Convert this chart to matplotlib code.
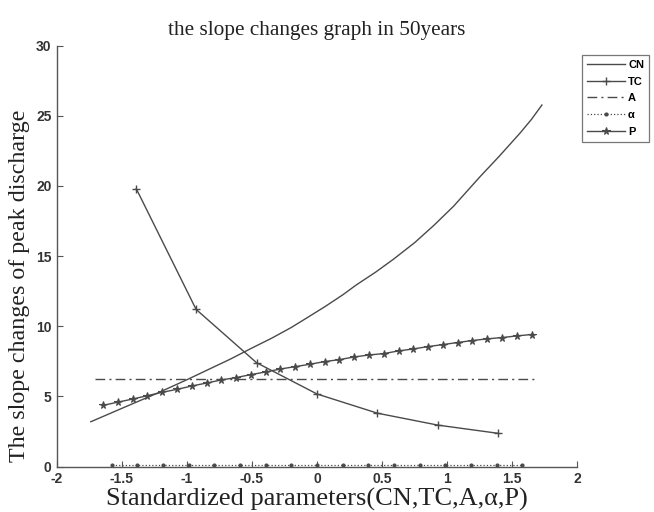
import numpy as np
import matplotlib
matplotlib.use("Agg")
import matplotlib.pyplot as plt

# ---- data ----
cn_x = [-1.74, -1.5, -1.23, -1.0, -0.8, -0.67, -0.5, -0.35, -0.2, -0.105, 0.06, 0.2, 0.3,
        0.45, 0.587, 0.75, 0.9, 1.05, 1.254, 1.4, 1.56, 1.65, 1.73]
cn_y = [3.19, 4.15, 5.22, 6.19, 7.07, 7.64, 8.45, 9.14, 9.9, 10.44, 11.39, 12.25, 12.93,
        13.85, 14.77, 15.95, 17.2, 18.55, 20.66, 22.1, 23.75, 24.75, 25.77]

tc_x = [-1.39, -0.93, -0.465, 0.0, 0.465, 0.93, 1.39]
tc_y = [19.8, 11.2, 7.4, 5.17, 3.8, 2.95, 2.37]

a_x = [-1.71, 1.70]
a_y = [6.24, 6.24]

alpha_x = [-1.58, -1.3825, -1.185, -0.9875, -0.79, -0.5925, -0.395, -0.1975, 0.0,
           0.1975, 0.395, 0.5925, 0.79, 0.9875, 1.185, 1.3825, 1.58]
alpha_y = [0.12] * 17

p_x = [-1.645, -1.531, -1.418, -1.304, -1.191, -1.077, -0.963, -0.850, -0.736, -0.623,
       -0.509, -0.395, -0.282, -0.168, -0.055, 0.059, 0.173, 0.286, 0.400, 0.513,
       0.627, 0.741, 0.854, 0.968, 1.081, 1.195, 1.309, 1.422, 1.536, 1.650]
p_y = [4.36, 4.59, 4.81, 5.05, 5.29, 5.50, 5.74, 5.95, 6.17, 6.34,
       6.55, 6.74, 6.95, 7.12, 7.29, 7.48, 7.62, 7.81, 7.95, 8.05,
       8.24, 8.38, 8.55, 8.69, 8.84, 8.98, 9.10, 9.19, 9.31, 9.41]

x_ticks = [-2, -1.5, -1, -0.5, 0, 0.5, 1, 1.5, 2]
x_tick_labels = ['-2', '-1.5', '-1', '-0.5', '0', '0.5', '1', '1.5', '2']
y_ticks = [0, 5, 10, 15, 20, 25, 30]
y_tick_labels = ['0', '5', '10', '15', '20', '25', '30']

title = "the slope changes graph in 50years"
xlabel = "Standardized parameters(CN,TC,A,\u03b1,P)"
ylabel = "The slope changes of peak discharge"

# ---- figure ----
fig = plt.figure(figsize=(6.54, 5.12), dpi=100)
ax = fig.add_axes([57/654, 1-466.5/512, 520/654, (466.5-45.7)/512])

lc = '#4a4a4a'
ax.plot(cn_x, cn_y, '-', color=lc, lw=1.0, label='CN')
ax.plot(tc_x, tc_y, '-', color=lc, lw=1.0, marker='+', ms=6, mew=1.0, label='TC')
ax.plot(a_x, a_y, linestyle=(0, (7, 3, 1.5, 3)), color=lc, lw=1.0, label='A')
ax.plot(alpha_x, alpha_y, ':', color=lc, lw=0.9, marker='.', ms=4, label='\u03b1')
ax.plot(p_x, p_y, '-', color=lc, lw=1.0, marker='*', ms=5.5, mew=0.8, label='P')

ax.set_xlim(-2, 2)
ax.set_ylim(0, 30)
ax.set_xticks(x_ticks)
ax.set_xticklabels(x_tick_labels)
ax.set_yticks(y_ticks)
ax.set_yticklabels(y_tick_labels)
for s in ['top', 'right']:
    ax.spines[s].set_visible(False)
for s in ['left', 'bottom']:
    ax.spines[s].set_color('#555555')
    ax.spines[s].set_linewidth(1.0)
ax.tick_params(direction='in', length=4, width=0.8, color='#555555',
               labelsize=10, labelcolor='#333333', pad=4)
for lab in ax.get_xticklabels() + ax.get_yticklabels():
    lab.set_family('Liberation Sans')
    lab.set_weight('bold')

ax.set_title(title, family='Liberation Serif', fontsize=15.3, pad=8, color='#222222')
ax.set_xlabel(xlabel, family='Liberation Serif', fontsize=19, labelpad=1, color='#222222')
ax.set_ylabel(ylabel, family='Liberation Serif', fontsize=17.3, color='#222222')
ax.yaxis.set_label_coords(-0.052, 0.43)

leg = ax.legend(loc='upper left', bbox_to_anchor=(582/654, 1-55/512),
                bbox_transform=fig.transFigure, frameon=True, fancybox=False,
                prop={'family': 'Liberation Sans', 'weight': 'bold', 'size': 8},
                handlelength=3.4, handletextpad=0.3, borderpad=0.45,
                labelspacing=0.6, borderaxespad=0)
leg.get_frame().set_edgecolor('#555555')
leg.get_frame().set_linewidth(0.9)

fig.savefig('out.png', dpi=100)
